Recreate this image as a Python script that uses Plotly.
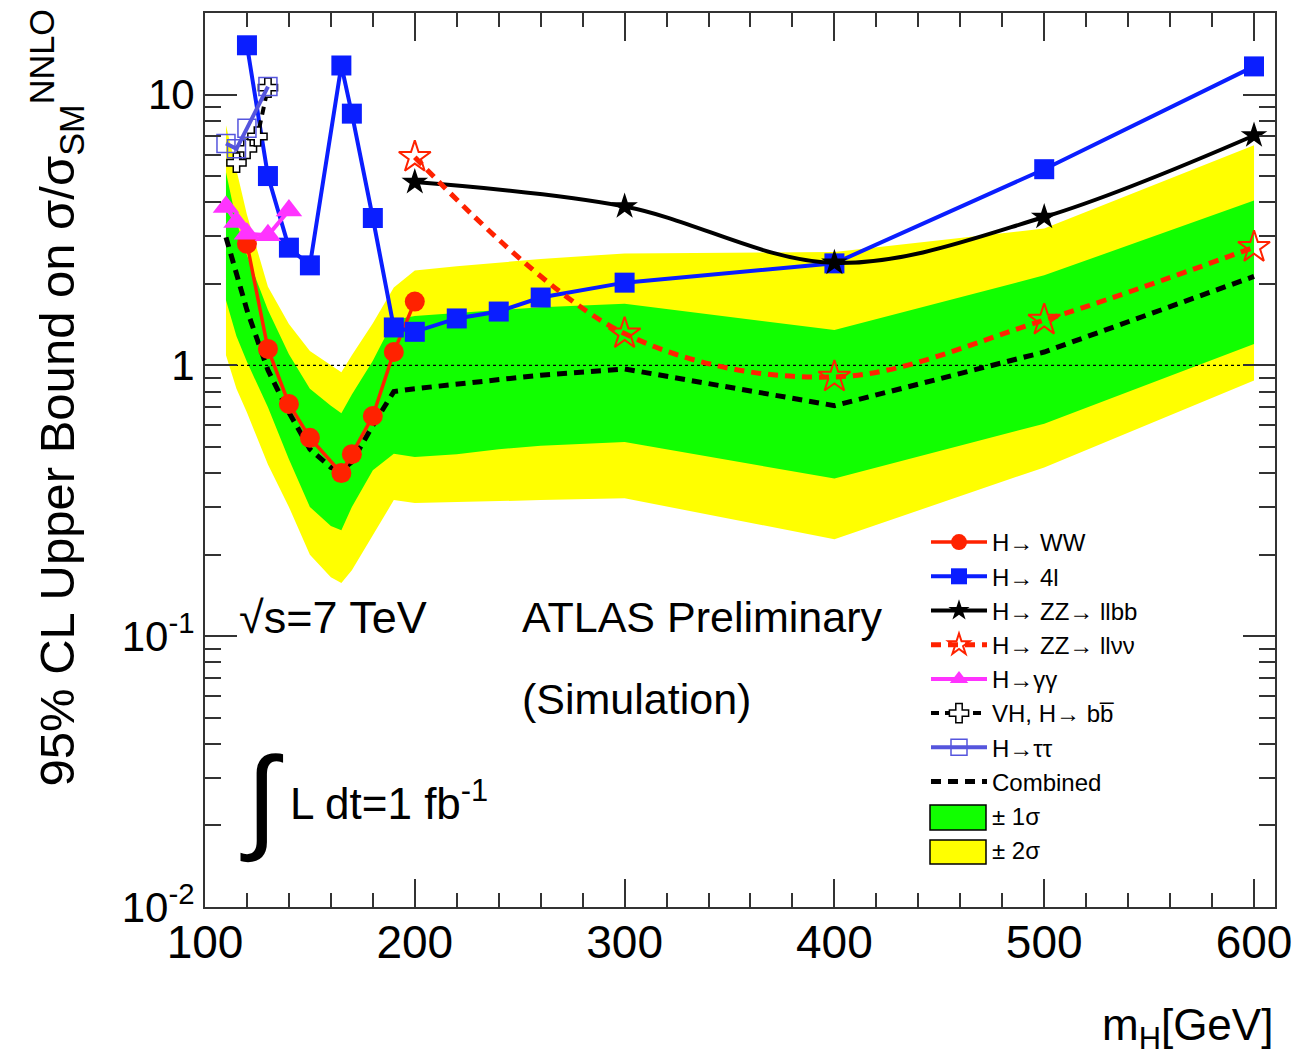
import plotly.graph_objects as go

# ---------------- data ----------------
mass_ww = [120, 130, 140, 150, 165, 170, 180, 190, 200]
lim_ww = [2.81, 1.15, 0.72, 0.54, 0.40, 0.47, 0.65, 1.12, 1.72]

mass_4l = [120, 130, 140, 150, 165, 170, 180, 190, 200, 220, 240, 260, 300, 400, 500, 600]
lim_4l = [15.2, 5.0, 2.72, 2.34, 12.8, 8.5, 3.5, 1.38, 1.33, 1.49, 1.58, 1.78, 2.02, 2.38, 5.3, 12.7]

mass_llbb = [200, 300, 400, 500, 600]
lim_llbb = [4.75, 3.86, 2.39, 3.53, 7.06]

mass_llvv = [200, 300, 400, 500, 600]
lim_llvv = [5.87, 1.31, 0.906, 1.47, 2.73]

mass_gg = [110, 115, 120, 130, 140]
lim_gg = [3.84, 3.38, 3.06, 3.02, 3.73]

mass_vhbb = [115, 120, 125, 130]
lim_vhbb = [5.6, 6.3, 7.0, 10.6]

mass_tt = [110, 115, 120, 130]
lim_tt = [6.6, 6.3, 7.5, 10.7]

mass_comb = [110, 115, 120, 130, 140, 150, 160, 165, 170, 180, 190, 200, 220, 240, 260, 300, 400, 500, 600]
lim_comb = [2.97, 2.20, 1.60, 0.96, 0.67, 0.49, 0.42, 0.41, 0.44, 0.60, 0.80, 0.82, 0.85, 0.88, 0.92, 0.97, 0.71, 1.12, 2.13]
green_hi = [5.16, 3.4, 2.55, 1.6, 1.1, 0.82, 0.71, 0.665, 0.78, 1.04, 1.47, 1.52, 1.56, 1.60, 1.64, 1.69, 1.35, 2.15, 4.06]
green_lo = [1.74, 1.28, 1.03, 0.70, 0.45, 0.30, 0.255, 0.246, 0.30, 0.41, 0.472, 0.459, 0.47, 0.49, 0.505, 0.521, 0.382, 0.609, 1.20]
yellow_hi = [7.7, 5.2, 3.6, 1.95, 1.42, 1.13, 1.0, 0.944, 1.09, 1.43, 1.94, 2.24, 2.32, 2.40, 2.47, 2.59, 2.62, 3.2, 6.5]
yellow_lo = [1.09, 0.82, 0.67, 0.43, 0.30, 0.20, 0.165, 0.157, 0.175, 0.236, 0.318, 0.31, 0.312, 0.315, 0.318, 0.323, 0.228, 0.42, 0.88]

y_tickvals = [0.01, 0.1, 1, 10]
y_ticktext = ["10<sup>-2</sup>", "10<sup>-1</sup>", "1", "10"]
x_tickvals = [100, 200, 300, 400, 500, 600]
x_ticktext = ["100", "200", "300", "400", "500", "600"]

NARROW = "Liberation Sans Narrow, Arial Narrow, Liberation Sans, Arial, sans-serif"
REG = "Liberation Sans, Arial, Helvetica, sans-serif"

GREEN = "#11ff00"
YELLOW = "#ffff00"

fig = go.Figure()

# bands
fig.add_trace(go.Scatter(x=mass_comb + mass_comb[::-1], y=yellow_hi + yellow_lo[::-1],
                         fill="toself", fillcolor=YELLOW, line=dict(width=0),
                         mode="lines", showlegend=False, hoverinfo="skip"))
fig.add_trace(go.Scatter(x=mass_comb + mass_comb[::-1], y=green_hi + green_lo[::-1],
                         fill="toself", fillcolor=GREEN, line=dict(width=0),
                         mode="lines", showlegend=False, hoverinfo="skip"))
# unity line
fig.add_trace(go.Scatter(x=[100, 610], y=[1, 1], mode="lines",
                         line=dict(color="black", width=1.2, dash="3px,3px"),
                         showlegend=False, hoverinfo="skip"))

fig.add_trace(go.Scatter(x=mass_comb, y=lim_comb, mode="lines", name="Combined",
                         line=dict(color="black", width=5, dash="10px,7px"), legendrank=8))

fig.add_trace(go.Scatter(x=mass_ww, y=lim_ww, mode="lines+markers", name="H\u2192 WW",
                         line=dict(color="#ff2200", width=3.5),
                         marker=dict(symbol="circle", size=20, color="#ff2200"), legendrank=1))
fig.add_trace(go.Scatter(x=mass_4l, y=lim_4l, mode="lines+markers", name="H\u2192 4l",
                         line=dict(color="#0a1eff", width=4),
                         marker=dict(symbol="square", size=20, color="#0a1eff"), legendrank=2))
fig.add_trace(go.Scatter(x=mass_llbb, y=lim_llbb, mode="lines+markers", name="H\u2192 ZZ\u2192 llbb",
                         line=dict(color="black", width=4, shape="spline"),
                         marker=dict(symbol="star", size=20, color="black"), legendrank=3))
fig.add_trace(go.Scatter(x=mass_llvv, y=lim_llvv, mode="lines+markers", name="H\u2192 ZZ\u2192 ll\u03bd\u03bd",
                         line=dict(color="#ff2200", width=5, dash="10px,7px", shape="spline"),
                         marker=dict(symbol="star-open", size=24, color="#ff2200", line=dict(width=2)),
                         legendrank=4))
fig.add_trace(go.Scatter(x=mass_gg, y=lim_gg, mode="lines+markers", name="H\u2192\u03b3\u03b3",
                         line=dict(color="#ff33ff", width=4),
                         marker=dict(symbol="triangle-up", size=23, color="#ff33ff"), legendrank=5))
fig.add_trace(go.Scatter(x=mass_vhbb, y=lim_vhbb, mode="lines+markers", name="VH, H\u2192 bb\u0305",
                         line=dict(color="black", width=4, dash="8px,6px"),
                         marker=dict(symbol="cross", size=16, color="white", line=dict(color="black", width=1.5)),
                         legendrank=6))
fig.add_trace(go.Scatter(x=mass_tt, y=lim_tt, mode="lines+markers", name="H\u2192\u03c4\u03c4",
                         line=dict(color="#5555dd", width=4),
                         marker=dict(symbol="square-open", size=18, color="#5555dd", line=dict(width=1.5)),
                         legendrank=7))
# legend-only entries for the bands (boxes drawn as shapes below)
fig.add_trace(go.Scatter(x=[None], y=[None], mode="markers", marker=dict(color="rgba(0,0,0,0)"),
                         name="\u00b1 1\u03c3", legendrank=9))
fig.add_trace(go.Scatter(x=[None], y=[None], mode="markers", marker=dict(color="rgba(0,0,0,0)"),
                         name="\u00b1 2\u03c3", legendrank=10))

minor_y = [m * 10 ** e for e in (-2, -1, 0, 1) for m in range(2, 10) if m * 10 ** e < 20]


def px_x(p):
    return (p - 205) / 1070.0


def px_y(p):
    return (907 - p) / 894.0


fig.update_layout(
    width=1312, height=1059,
    margin=dict(l=205, r=37, t=13, b=152),
    paper_bgcolor="white", plot_bgcolor="white",
    showlegend=True,
    legend=dict(x=px_x(926), y=px_y(520), xanchor="left", yanchor="top",
                bgcolor="rgba(0,0,0,0)", font=dict(family=REG, size=24, color="black"),
                itemwidth=56, tracegroupgap=0),
    xaxis=dict(range=[100, 610], tickvals=x_tickvals, ticktext=x_ticktext,
               ticks="inside", ticklen=28, tickwidth=1.5, tickcolor="#333",
               showline=True, linewidth=2, linecolor="#333", mirror="ticks",
               showgrid=False, zeroline=False, ticklabelstandoff=-6,
               tickfont=dict(family=REG, size=46, color="black"),
               minor=dict(dtick=20, ticks="inside", ticklen=14, tickwidth=1.5, tickcolor="#333", showgrid=False)),
    yaxis=dict(type="log", range=[-2, 1.30103], tickvals=y_tickvals, ticktext=y_ticktext,
               ticks="inside", ticklen=32, tickwidth=1.5, tickcolor="#333",
               showline=True, linewidth=2, linecolor="#333", mirror="ticks",
               showgrid=False, zeroline=False, ticklabelstandoff=0,
               tickfont=dict(family=REG, size=42, color="black"),
               minor=dict(tickvals=minor_y, ticks="inside", ticklen=16, tickwidth=1.5, tickcolor="#333", showgrid=False)),
    shapes=[
        dict(type="rect", xref="paper", yref="paper", x0=px_x(930), x1=px_x(986), y0=px_y(830), y1=px_y(805),
             fillcolor=GREEN, line=dict(color="black", width=1.5)),
        dict(type="rect", xref="paper", yref="paper", x0=px_x(930), x1=px_x(986), y0=px_y(864), y1=px_y(840),
             fillcolor=YELLOW, line=dict(color="black", width=1.5)),
    ],
)

ann = [
    dict(text="\u221as=7 TeV", x=px_x(237), y=px_y(617), xanchor="left", yanchor="middle",
         font=dict(family=REG, size=45)),
    dict(text="ATLAS Preliminary", x=px_x(520), y=px_y(617), xanchor="left", yanchor="middle",
         font=dict(family=REG, size=43)),
    dict(text="(Simulation)", x=px_x(520), y=px_y(699), xanchor="left", yanchor="middle",
         font=dict(family=REG, size=43)),
    dict(text="\u222b", x=px_x(238), y=px_y(798), xanchor="left", yanchor="middle",
         font=dict(family=REG, size=115)),
    dict(text="L dt=1 fb<sup>-1</sup>", x=px_x(288), y=px_y(800), xanchor="left", yanchor="middle",
         font=dict(family=REG, size=44)),
    dict(text="m<sub>H</sub>[GeV]", x=1.0, y=px_y(1028), xanchor="right", yanchor="middle",
         font=dict(family=REG, size=44)),
    dict(text="95% CL Upper Bound on \u03c3/\u03c3<sub>SM</sub><sup>NNLO</sup>", x=px_x(57), y=px_y(8),
         xanchor="center", yanchor="top", textangle=-90,
         font=dict(family=REG, size=49)),
]
for a in ann:
    a.update(xref="paper", yref="paper", showarrow=False)
    a["font"]["color"] = "black"
fig.update_layout(annotations=ann)

fig.write_html("out.html")
